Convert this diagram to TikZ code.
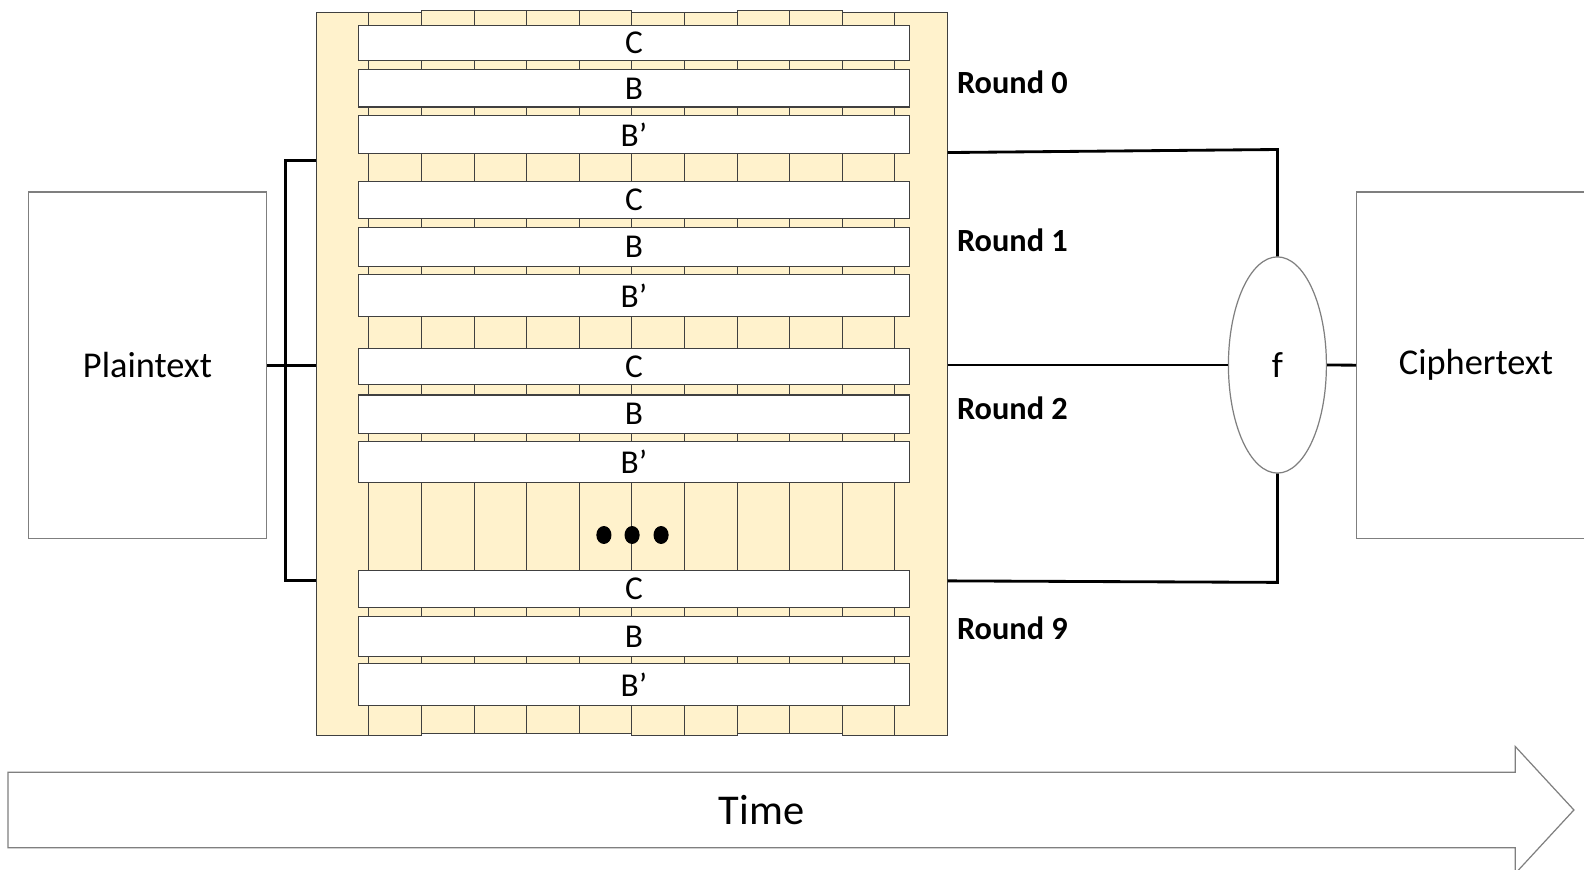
\documentclass[tikz,border=0pt]{standalone}
\usepackage{fontspec}
\setmainfont{Carlito}
\usetikzlibrary{shapes.geometric}
\definecolor{blockfill}{HTML}{FFF2CC}
\definecolor{cellline}{HTML}{404040}
\definecolor{boxline}{HTML}{7F7F7F}
\begin{document}
\begin{tikzpicture}[x=0.5pt,y=-0.5pt,
  cell/.style={fill=blockfill,draw=cellline,line width=0.5pt},
  bar/.style={draw=cellline,fill=white,line width=0.6pt,minimum width=272.5pt,inner sep=0pt,font=\fontsize{16.5}{16.5}\selectfont},
  bigbox/.style={draw=boxline,fill=white,line width=0.6pt,minimum width=118pt,minimum height=171.5pt,inner sep=0pt,font=\fontsize{18}{18}\selectfont},
  roundlab/.style={anchor=west,inner sep=0pt,font=\fontsize{16}{16}\selectfont\bfseries},
  conn/.style={draw=black,line width=1.4pt},
  fnode/.style={ellipse,draw=boxline,fill=white,line width=0.6pt,minimum width=48.5pt,minimum height=107pt,inner sep=0pt,font=\fontsize{18}{18}\selectfont}
]
\useasboundingbox (0,0) rectangle (1568,861);
\clip (0,0) rectangle (1568,861);
\fill[white] (0,0) rectangle (1568,861);

% columns of the block
\foreach \k/\t/\b in {0/12.5/728.5,1/12.5/728.5,2/10/726.5,3/10/726.5,4/10/726.5,5/10/726.5,6/12.5/728.5,7/12.5/728.5,8/10/726.5,9/10/726.5,10/12.5/728.5,11/12.5/728.5}
  \draw[cell] ({313+52.08*\k},\t) rectangle ({313+52.08*(\k+1)},\b);

% bars
\foreach \n/\lab/\tp/\bt in {c0/C/25/60, b0/B/69/106, bp0/B’/114/152,
                             c1/C/180/216, b1/B/225/264, bp1/B’/272/313,
                             c2/C/345/381, b2/B/391/429, bp2/B’/437/478,
                             c9/C/565/601, b9/B/610/650, bp9/B’/657/698}
  \node[bar,minimum height={(\bt-\tp)*0.5pt}] (\n) at (627.5,{(\tp+\bt)/2}) {\lab};

% dots
\foreach \xx in {597.8,625.7,654.4}
  \fill[black] (\xx,529.6) ellipse [x radius=7.5, y radius=8.9];

% round labels
\node[roundlab] (r0) at (947,81) {Round 0};
\node[roundlab] (r1) at (947,238) {Round 1};
\node[roundlab] (r2) at (947,404) {Round 2};
\node[roundlab] (r9) at (947,622) {Round 9};

% plaintext, f, ciphertext
\node[bigbox] (pt) at (146,361.5) {Plaintext};
\node[bigbox] (ct) at (1461,361.5) {Ciphertext};
\node[fnode] (f) at (1264.5,361.3) {f};

% connector coordinates
\coordinate (blkLt) at (313,158.5);
\coordinate (blkLm) at (313,361.5);
\coordinate (blkLb) at (313,574.5);
\coordinate (brkT) at (283,158.5);
\coordinate (brkB) at (283,574.5);
\coordinate (blkRt) at (938,151);
\coordinate (blkRm) at (938,361.3);
\coordinate (blkRb) at (938,575);
\coordinate (corT) at (1264.5,148);
\coordinate (corB) at (1264.5,576.5);

\draw[conn] (blkLt) -- (brkT) -- (brkB) -- (blkLb);
\draw[conn] (pt.east) -- (blkLm);
\draw[conn] (blkRt) -- (corT) -- (f.north);
\draw[conn] (blkRm) -- (f.west);
\draw[conn] (blkRb) -- (corB) -- (f.south);
\draw[conn] (f.east) -- (ct.west);

% time arrow
\draw[draw=boxline,fill=white,line width=0.6pt]
  (8,764.5) -- (1500,764.5) -- (1500,739) -- (1558,801.8) -- (1500,864.6) -- (1500,839.1) -- (8,839.1) -- cycle;
\node[inner sep=0pt,font=\fontsize{21}{21}\selectfont] (time) at (754,801.8) {Time};
\end{tikzpicture}
\end{document}
